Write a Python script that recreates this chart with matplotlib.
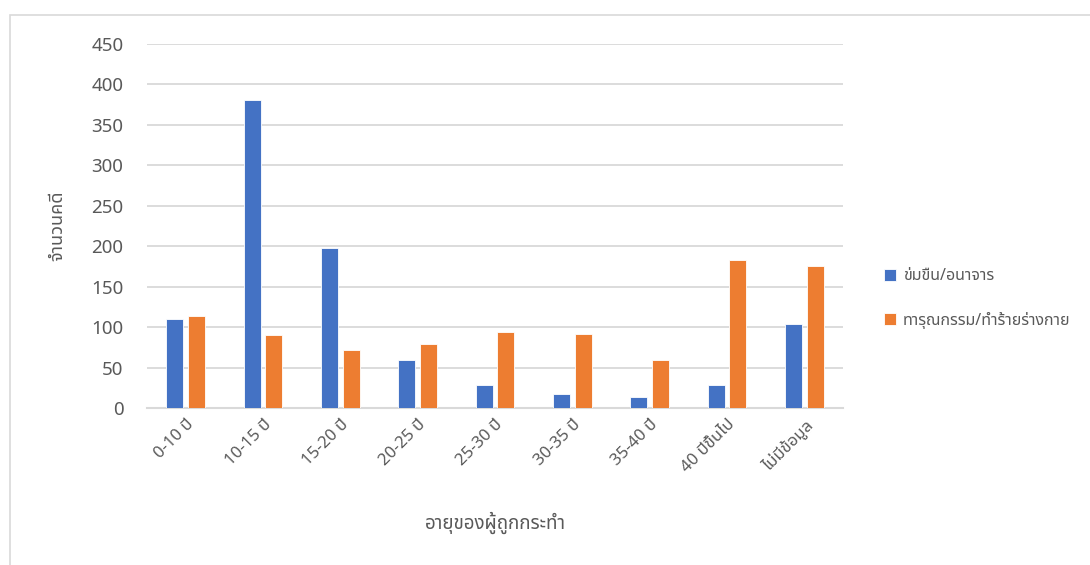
import matplotlib
matplotlib.use('Agg')
import matplotlib.pyplot as plt
import numpy as np
from matplotlib.patches import Rectangle

plt.rcParams['font.family'] = ['Noto Sans', 'Noto Sans Thai', 'DejaVu Sans']

# data
age_groups = ['0-10 ปี', '10-15 ปี', '15-20 ปี', '20-25 ปี', '25-30 ปี',
              '30-35 ปี', '35-40 ปี', '40 ปีขึ้นไป', 'ไม่มีข้อมูล']
rape_cases = [110, 381, 198, 59, 29, 17, 14, 29, 104]
assault_cases = [114, 90, 72, 79, 94, 92, 59, 183, 175]
series_names = ['ข่มขืน/อนาจาร', 'ทารุณกรรม/ทำร้ายร่างกาย']
y_ticks = [0, 50, 100, 150, 200, 250, 300, 350, 400, 450]

BLUE = '#4472C4'
ORANGE = '#ED7D31'
GRID = '#D9D9D9'
TEXT = '#595959'

fig = plt.figure(figsize=(10.9, 5.65), dpi=100)
ax = fig.add_axes([0.1349, 0.2779, 0.6385, 0.6442])

# outer chart border
fig.patches.append(Rectangle((10 / 1090, -0.05), 1.1, 1 - 14.5 / 565 + 0.05,
                             transform=fig.transFigure, fill=False,
                             edgecolor=GRID, linewidth=1.2))

x = np.arange(len(age_groups))
w = 0.22
off = 0.141
ax.bar(x - off, rape_cases, w, color=BLUE, edgecolor='white', linewidth=0.6,
       label=series_names[0], zorder=3)
ax.bar(x + off, assault_cases, w, color=ORANGE, edgecolor='white', linewidth=0.6,
       label=series_names[1], zorder=3)

ax.set_xlim(-0.5, len(age_groups) - 0.5)
ax.set_ylim(0, 450)
ax.set_yticks(y_ticks)
ax.yaxis.grid(True, color=GRID, linewidth=1.3, zorder=0)
ax.set_axisbelow(True)
for s in ['top', 'right', 'left']:
    ax.spines[s].set_visible(False)
ax.spines['bottom'].set_color(GRID)
ax.spines['bottom'].set_linewidth(1.5)
ax.tick_params(axis='y', length=0, pad=17, labelsize=13.5, labelcolor=TEXT)
ax.tick_params(axis='x', length=0, pad=6, labelsize=12, labelcolor=TEXT)

ax.set_xticks(x)
ax.set_xticklabels(age_groups, rotation=45, ha='right', va='top',
                   rotation_mode='anchor')

fig.text(495 / 1090, 1 - 523 / 565, 'อายุของผู้ถูกกระทำ', ha='center', va='center',
         fontsize=13.5, color=TEXT)
fig.text(57 / 1090, 1 - 226 / 565, 'จำนวนคดี', ha='center', va='center',
         rotation=90, fontsize=13, color=TEXT)

leg = fig.legend(loc='upper left', bbox_to_anchor=(870 / 1090, 1 - 254 / 565),
                 frameon=False, fontsize=11.5, labelcolor=TEXT,
                 handlelength=0.75, handleheight=0.75, handletextpad=0.4,
                 labelspacing=1.7)

fig.savefig('out.png', dpi=100)
